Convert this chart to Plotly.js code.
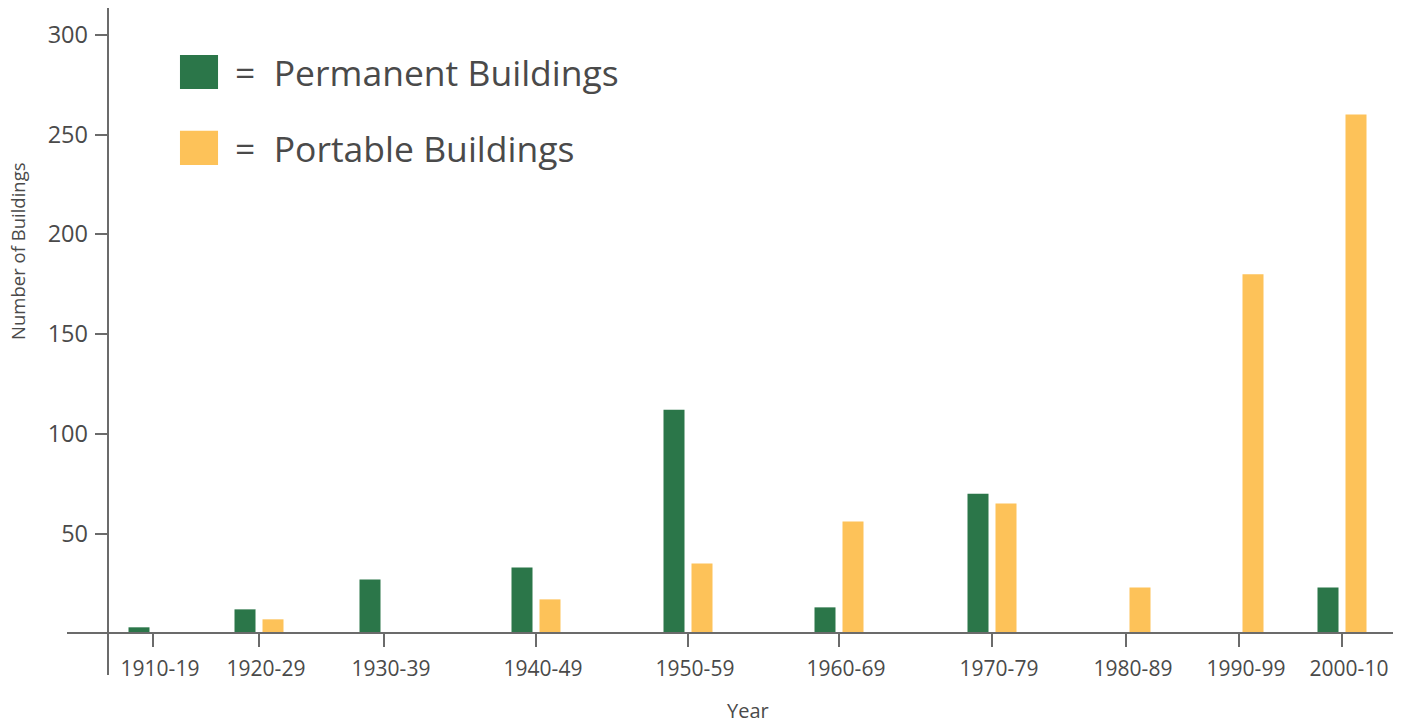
<!DOCTYPE html>
<html>
<head>
<meta charset="utf-8">
<script src="https://cdn.plot.ly/plotly-3.0.1.min.js"></script>
<style>
  html, body { margin: 0; padding: 0; background: #fff; }
  #chart { width: 1417px; height: 726px; }
</style>
</head>
<body>
<div id="chart"></div>
<script>
// Decades on the x axis
const decades = ['1910-19', '1920-29', '1930-39', '1940-49', '1950-59',
                 '1960-69', '1970-79', '1980-89', '1990-99', '2000-10'];
// Centre of each decade slot on the (unevenly spaced) numeric x axis
const slotX = [86, 192, 317, 469, 621, 772, 925, 1059, 1172, 1275];

// Number of buildings (null = no bar)
const permanent = [3, 12, 27, 33, 112, 13, 70, null, null, 23];
const portable = [null, 7, null, 17, 35, 56, 65, 23, 180, 260];

const seriesNames = ['Permanent Buildings', 'Portable Buildings'];
const yTicks = [50, 100, 150, 200, 250, 300];

const green = '#2b7649';
const yellow = '#fdc259';
const axisGrey = '#6b6b6b';
const textGrey = '#4a4a4a';
const font = 'Open Sans, sans-serif';

// Permanent bars sit just left of the slot centre
const trace1 = {
    type: 'bar',
    x: slotX,
    y: permanent,
    name: seriesNames[0],
    width: 21,
    offset: -24.5,
    marker: { color: green, line: { width: 0 } },
    showlegend: false
};

// Portable bars sit just right of it
const trace2 = {
    type: 'bar',
    x: slotX,
    y: portable,
    name: seriesNames[1],
    width: 21,
    offset: 3.5,
    marker: { color: yellow, line: { width: 0 } },
    showlegend: false
};

// Hand-made legend: swatch + "= name"
const swatch = (y0, y1, color) => ({
    type: 'rect', xref: 'paper', yref: 'paper',
    x0: 0.0852, x1: 0.1139, y0: y0, y1: y1,
    fillcolor: color, line: { width: 0 }
});
const legendText = (y, label) => ({
    xref: 'paper', yref: 'paper', x: 0.1255, y: y,
    xanchor: 'left', yanchor: 'middle', showarrow: false,
    text: '=  ' + label,
    font: { family: font, size: 35.5, color: textGrey }
});

const layout = {
    width: 1417,
    height: 726,
    margin: { l: 67, r: 24, t: 8, b: 51 },
    paper_bgcolor: '#fff',
    plot_bgcolor: '#fff',
    barmode: 'overlay',
    font: { family: font, color: textGrey },
    xaxis: {
        range: [0, 1326],
        anchor: 'free',
        position: 0.0625,
        tickmode: 'array',
        tickvals: slotX,
        ticktext: decades,
        ticks: 'outside',
        ticklen: 13,
        tickwidth: 2,
        tickcolor: axisGrey,
        ticklabelshift: 7,
        ticklabelstandoff: 3,
        tickfont: { family: font, size: 21, color: textGrey },
        showline: true,
        linecolor: axisGrey,
        linewidth: 2,
        showgrid: false,
        zeroline: false,
        fixedrange: true
    },
    yaxis: {
        range: [-20.9, 313.4],
        anchor: 'free',
        position: 0.0307,
        tickmode: 'array',
        tickvals: yTicks,
        ticks: 'outside',
        ticklen: 12,
        tickwidth: 2,
        tickcolor: axisGrey,
        ticklabelstandoff: 2,
        tickfont: { family: font, size: 23.5, color: textGrey },
        showline: true,
        linecolor: axisGrey,
        linewidth: 2,
        showgrid: false,
        zeroline: false,
        fixedrange: true
    },
    shapes: [
        swatch(0.8786, 0.9295, green),
        swatch(0.7646, 0.8160, yellow)
    ],
    annotations: [
        legendText(0.9040, seriesNames[0]),
        legendText(0.7903, seriesNames[1]),
        {
            xref: 'paper', yref: 'paper', x: 0.5132, y: -0.0535,
            xanchor: 'center', yanchor: 'middle',
            showarrow: false, text: 'Year',
            font: { family: font, size: 20, color: textGrey }
        },
        {
            xref: 'paper', yref: 'paper', x: -0.037, y: 0.6357,
            xanchor: 'center', yanchor: 'middle',
            showarrow: false, textangle: -90, text: 'Number of Buildings',
            font: { family: font, size: 18.5, color: textGrey }
        }
    ]
};

Plotly.newPlot('chart', [trace1, trace2], layout, { displayModeBar: false, staticPlot: true });
</script>
</body>
</html>
